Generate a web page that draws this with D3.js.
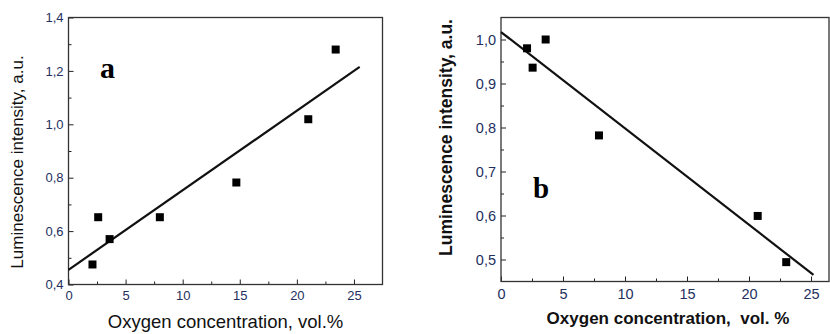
<!DOCTYPE html>
<html>
<head>
<meta charset="utf-8">
<script src="https://cdn.jsdelivr.net/npm/d3@7"></script>
<style>
  body { margin: 0; background: #fff; }
  svg { display: block; }
</style>
</head>
<body>
<svg id="chart"></svg>
<script>
// panel a data
const oxygenA = [2.1, 2.6, 3.6, 8.0, 14.7, 21.0, 23.4];
const lumA = [0.475, 0.652, 0.57, 0.652, 0.782, 1.019, 1.28];
const fitAx = [0, 25.5];
const fitAy = [0.455, 1.215];
const xTicksA = [0, 5, 10, 15, 20, 25];
const yTicksA = [0.4, 0.6, 0.8, 1.0, 1.2, 1.4];

// panel b data
const oxygenB = [2.1, 2.55, 3.6, 7.9, 20.7, 23.0];
const lumB = [0.98, 0.936, 1.0, 0.782, 0.599, 0.494];
const fitBx = [0, 25.2];
const fitBy = [1.017, 0.465];
const xTicksB = [0, 5, 10, 15, 20, 25];
const yTicksB = [0.5, 0.6, 0.7, 0.8, 0.9, 1.0];

const width = 830, height = 334;
const svg = d3.select("#chart").attr("width", width).attr("height", height);

const comma = d => d3.format(".1f")(d).replace(".", ",");

function drawPanel(opts) {
    const x = d3.scaleLinear().domain(opts.xDomain).range([opts.left, opts.right]);
    const y = d3.scaleLinear().domain(opts.yDomain).range([opts.bottom, opts.top]);
    const g = svg.append("g");

    // minor ticks
    g.append("g")
        .attr("transform", `translate(0,${opts.bottom})`)
        .call(d3.axisBottom(x).tickValues(opts.xMinor).tickFormat("").tickSize(-3).tickSizeOuter(0))
        .call(a => a.select(".domain").remove())
        .call(a => a.selectAll("line").attr("stroke", "#222"));
    g.append("g")
        .attr("transform", `translate(${opts.left},0)`)
        .call(d3.axisLeft(y).tickValues(opts.yMinor).tickFormat("").tickSize(-3).tickSizeOuter(0))
        .call(a => a.select(".domain").remove())
        .call(a => a.selectAll("line").attr("stroke", "#222"));

    // major ticks + labels
    const xa = g.append("g")
        .attr("transform", `translate(0,${opts.bottom})`)
        .call(d3.axisBottom(x).tickValues(opts.xTicks).tickFormat(d3.format("d")).tickSize(-5).tickSizeOuter(0).tickPadding(opts.xPad));
    const ya = g.append("g")
        .attr("transform", `translate(${opts.left},0)`)
        .call(d3.axisLeft(y).tickValues(opts.yTicks).tickFormat(comma).tickSize(-5).tickSizeOuter(0).tickPadding(opts.yPad));
    [xa, ya].forEach(a => {
        a.select(".domain").remove();
        a.selectAll("line").attr("stroke", "#222");
        a.selectAll("text")
            .attr("font-family", "'Liberation Sans', Arial, sans-serif")
            .attr("font-size", opts.tickFont)
            .attr("fill", opts.tickColor);
    });

    // frame
    g.append("rect")
        .attr("x", opts.left).attr("y", opts.top)
        .attr("width", opts.right - opts.left).attr("height", opts.bottom - opts.top)
        .attr("fill", "none").attr("stroke", "#333").attr("stroke-width", 1.3);

    // fit line
    g.append("line")
        .attr("x1", x(opts.fitX[0])).attr("y1", y(opts.fitY[0]))
        .attr("x2", x(opts.fitX[1])).attr("y2", y(opts.fitY[1]))
        .attr("stroke", "#111").attr("stroke-width", 2.2);

    // points
    const s = 8;
    g.selectAll(".pt")
        .data(opts.xs.map((v, i) => [v, opts.ys[i]]))
        .enter().append("rect")
        .attr("class", "pt")
        .attr("x", d => x(d[0]) - s / 2)
        .attr("y", d => y(d[1]) - s / 2)
        .attr("width", s).attr("height", s)
        .attr("fill", "#000");

    // axis titles
    g.append("text")
        .attr("x", opts.xTitlePos[0]).attr("y", opts.xTitlePos[1])
        .attr("text-anchor", "middle")
        .attr("font-family", "'Liberation Sans', Arial, sans-serif")
        .attr("font-size", opts.titleFont)
        .attr("font-weight", opts.titleWeight)
        .attr("fill", "#111")
        .style("white-space", "pre")
        .text(opts.xTitle);
    g.append("text")
        .attr("transform", `translate(${opts.yTitlePos[0]},${opts.yTitlePos[1]}) rotate(-90)`)
        .attr("text-anchor", "middle")
        .attr("font-family", "'Liberation Sans', Arial, sans-serif")
        .attr("font-size", opts.yTitleFont)
        .attr("font-weight", opts.titleWeight)
        .attr("fill", "#111")
        .text(opts.yTitle);

    // panel letter
    g.append("text")
        .attr("x", opts.letterPos[0]).attr("y", opts.letterPos[1])
        .attr("font-family", "'Liberation Serif', 'Times New Roman', serif")
        .attr("font-weight", "bold")
        .attr("font-size", opts.letterFont)
        .attr("fill", "#000")
        .text(opts.letter);
}

drawPanel({
    xDomain: [0, 27.5], yDomain: [0.4, 1.4],
    left: 68.5, right: 382.5, top: 17.5, bottom: 284.5,
    xTicks: xTicksA, yTicks: yTicksA,
    xMinor: [2.5, 7.5, 12.5, 17.5, 22.5],
    yMinor: [0.5, 0.7, 0.9, 1.1, 1.3],
    xPad: 6, yPad: 5, tickFont: 13, tickColor: "#23305e",
    fitX: fitAx, fitY: fitAy, xs: oxygenA, ys: lumA,
    xTitle: "Oxygen concentration, vol.%", xTitlePos: [225.5, 328],
    titleFont: 18.5, yTitleFont: 17, titleWeight: "normal",
    yTitle: "Luminescence intensity, a.u.", yTitlePos: [22.5, 162],
    letter: "a", letterPos: [100, 78], letterFont: 30
});

drawPanel({
    xDomain: [0, 26.45], yDomain: [0.45, 1.05],
    left: 501, right: 829, top: 17.5, bottom: 281.5,
    xTicks: xTicksB, yTicks: yTicksB,
    xMinor: [2.5, 7.5, 12.5, 17.5, 22.5],
    yMinor: [0.55, 0.65, 0.75, 0.85, 0.95],
    xPad: 7, yPad: 5, tickFont: 14.5, tickColor: "#23305e",
    fitX: fitBx, fitY: fitBy, xs: oxygenB, ys: lumB,
    xTitle: "Oxygen concentration,  vol. %", xTitlePos: [668, 324],
    titleFont: 17, yTitleFont: 17.5, titleWeight: "bold",
    yTitle: "Luminescence intensity, a.u.", yTitlePos: [451.5, 137.5],
    letter: "b", letterPos: [533, 198], letterFont: 29
});
</script>
</body>
</html>
